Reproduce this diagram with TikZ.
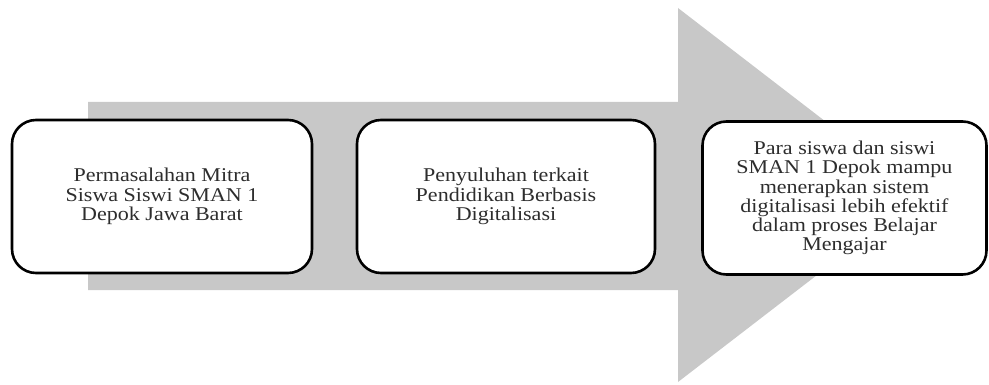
\documentclass[tikz,border=0pt]{standalone}
\usepackage{fontspec}
\setmainfont{Liberation Serif}[FakeStretch=1.13]
\definecolor{arrowgray}{RGB}{200,200,200}
\definecolor{txtgray}{RGB}{45,45,45}
\begin{document}
\begin{tikzpicture}[x=1pt,y=-1pt,
  stepbox/.style={draw=black, line width=2.6pt, rounded corners=24pt, fill=white,
    minimum height=153pt, align=center, text=txtgray, inner sep=0pt,
    font=\fontsize{19.5}{19.2}\selectfont}]
\useasboundingbox (0,0) rectangle (989,385);
\fill[arrowgray] (88,102) -- (678,102) -- (678,8) -- (921,195) -- (678,382) -- (678,290) -- (88,290) -- cycle;
\node[stepbox, minimum width=300pt] (b1) at (162,196.5)
  {Permasalahan Mitra\\Siswa Siswi SMAN 1\\Depok Jawa Barat};
\node[stepbox, minimum width=298pt] (b2) at (506,196.5)
  {Penyuluhan terkait\\Pendidikan Berbasis\\Digitalisasi};
\node[stepbox, minimum width=284pt] (b3) at (844.5,198)
  {Para siswa dan siswi\\SMAN 1 Depok mampu\\menerapkan sistem\\digitalisasi lebih efektif\\dalam proses Belajar\\Mengajar};
\end{tikzpicture}
\end{document}
